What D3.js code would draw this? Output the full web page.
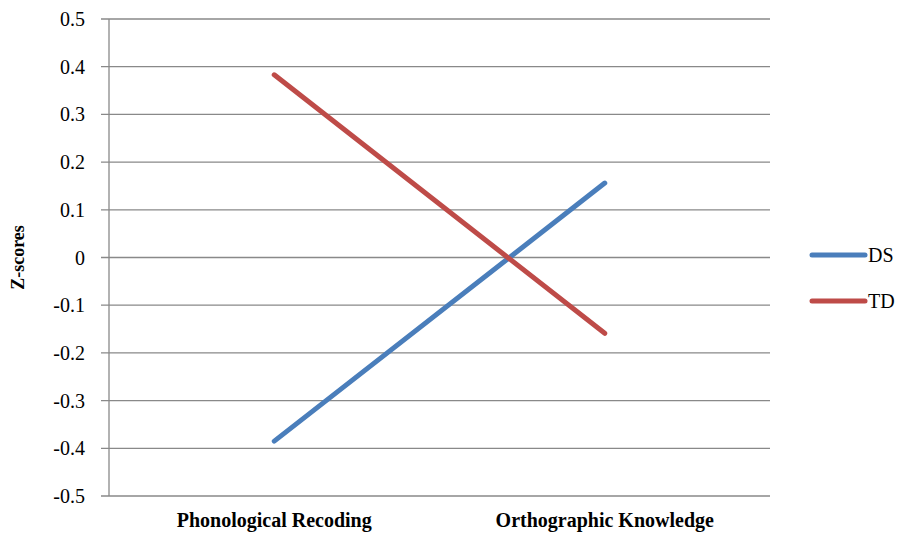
<!DOCTYPE html>
<html><head><meta charset="utf-8">
<script src="https://cdn.jsdelivr.net/npm/d3@7"></script>
<style>body{margin:0;background:#fff}svg{display:block}
svg text{font-family:"Liberation Serif","Times New Roman",serif !important;}</style>
</head><body>
<svg id="c" width="906" height="536"></svg>
<script>
const categories = ["Phonological Recoding", "Orthographic Knowledge"];
const seriesNames = ["DS", "TD"];
const dsValues = [-0.385, 0.156];
const tdValues = [0.383, -0.159];
const yTicks = [-0.5,-0.4,-0.3,-0.2,-0.1,0,0.1,0.2,0.3,0.4,0.5];
const yTickLabels = ["-0.5","-0.4","-0.3","-0.2","-0.1","0","0.1","0.2","0.3","0.4","0.5"];
const colors = ["#4a7ebb", "#be4b48"];

const svg = d3.select("#c");
const L = 109, R = 770, T = 19, B = 496;
const x = d3.scaleBand().domain(categories).range([L, R]);
const y = d3.scaleLinear().domain([-0.5, 0.5]).range([B, T]);
const FF = '"Liberation Serif", "Times New Roman", serif';
function txt(sel){ return sel.style("font-family", FF, "important"); }

// gridlines
svg.append("g").selectAll("line").data(yTicks).join("line")
  .attr("x1", L - 8).attr("x2", R)
  .attr("y1", d => y(d)).attr("y2", d => y(d))
  .attr("stroke", "#898989").attr("stroke-width", 1.3);
// y axis line
svg.append("line").attr("x1", L).attr("x2", L).attr("y1", T).attr("y2", B)
  .attr("stroke", "#898989").attr("stroke-width", 1.3);
// tick labels
txt(svg.append("g").selectAll("text").data(yTicks).join("text")
  .attr("x", 85).attr("y", d => y(d)).attr("dy", "0.35em")
  .attr("text-anchor", "end").attr("font-size", 20)
  .text((d,i) => yTickLabels[i]));
// category labels
txt(svg.append("g").selectAll("text").data(categories).join("text")
  .attr("x", d => x(d) + x.bandwidth()/2).attr("y", 527)
  .attr("text-anchor", "middle").attr("font-size", 20)
  .attr("font-weight", "bold").text(d => d));
// y title
txt(svg.append("text").attr("transform", `translate(24,${y(0)}) rotate(-90)`)
  .attr("text-anchor", "middle").attr("font-size", 18)
  .attr("font-weight", "bold").text("Z-scores"));

const line = d3.line().x((d,i) => x(categories[i]) + x.bandwidth()/2).y(d => y(d));
[dsValues, tdValues].forEach((vals, k) => {
  svg.append("path").attr("d", line(vals)).attr("fill", "none")
    .attr("stroke", colors[k]).attr("stroke-width", 5).attr("stroke-linecap", "round");
});

// legend
const legY = [255, 301];
seriesNames.forEach((n, k) => {
  svg.append("line").attr("x1", 812).attr("x2", 865).attr("y1", legY[k]).attr("y2", legY[k])
    .attr("stroke", colors[k]).attr("stroke-width", 5).attr("stroke-linecap", "round");
  txt(svg.append("text").attr("x", 868).attr("y", legY[k]).attr("dy", "0.35em")
    .attr("font-size", 20).text(n));
});
</script>
</body></html>
